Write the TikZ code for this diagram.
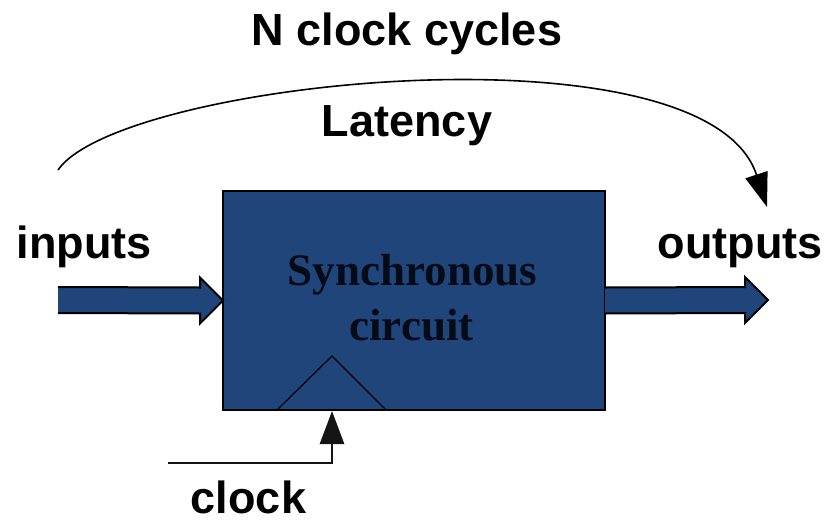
\documentclass[tikz,border=0pt]{standalone}
\usepackage{fontspec}
\setmainfont{Liberation Serif}
\newfontfamily\labelfont{Liberation Sans}
\usetikzlibrary{arrows.meta,calc}
\definecolor{navy}{RGB}{32,69,122}
\definecolor{ink}{RGB}{4,10,22}
\definecolor{wire}{RGB}{20,20,20}
\begin{document}
\begin{tikzpicture}[x=0.5pt,y=-0.5pt,
  lbl/.style={font=\labelfont\bfseries\fontsize{22.5}{27}\selectfont, anchor=base, inner sep=0pt},
  boxtxt/.style={font=\bfseries\fontsize{22.5}{27}\selectfont, text=ink, anchor=base, inner sep=0pt},
  circbox/.style={draw=black, fill=navy, line width=1.4pt, minimum width=191pt, minimum height=109.5pt, inner sep=0pt, outer sep=0pt},
  arrowfill/.style={fill=navy},
  arrowedge/.style={draw=black, line width=1pt, line join=miter},
  clockline/.style={draw=wire, line width=1.3pt, -{Triangle[length=16.5pt,width=12pt]}},
  arcline/.style={draw=black, line width=0.8pt, -{Triangle[length=17pt,width=11.5pt]}},
  edgetri/.style={draw=black, line width=0.6pt}
]
\useasboundingbox (0,0) rectangle (825,520);

% main block
\node[circbox] (box) at (414,300.5) {};
\node[boxtxt] (t1) at (412.5,285) {Synchronous};
\node[boxtxt] (t2) at (411.5,340) {circuit};

% clock edge triangle
\coordinate (triL) at (278,409);
\coordinate (triA) at (332,356);
\coordinate (triR) at (385,409);
\draw[edgetri] (triL) -- (triA) -- (triR);

% input block arrow
\coordinate (inS) at (58,300);
\coordinate (inT) at (box.west);
\fill[arrowfill] ($(inS)+(0,-13)$) -- ($(inT)+(-23,-13)$) -- ($(inT)+(-23,-23)$) -- (inT)
  -- ($(inT)+(-23,23)$) -- ($(inT)+(-23,13)$) -- ($(inS)+(0,13)$) -- cycle;
\draw[arrowedge] ($(inS)+(0,-13)$) -- ($(inT)+(-23,-13)$) -- ($(inT)+(-23,-23)$) -- (inT)
  -- ($(inT)+(-23,23)$) -- ($(inT)+(-23,13)$) -- ($(inS)+(0,13)$);

% output block arrow
\coordinate (outS) at (box.east);
\coordinate (outT) at (768,300);
\fill[arrowfill] ($(outS)+(0,-13)$) -- ($(outT)+(-23,-13)$) -- ($(outT)+(-23,-23)$) -- (outT)
  -- ($(outT)+(-23,23)$) -- ($(outT)+(-23,13)$) -- ($(outS)+(0,13)$) -- cycle;
\draw[arrowedge] ($(outS)+(0,-13)$) -- ($(outT)+(-23,-13)$) -- ($(outT)+(-23,-23)$) -- (outT)
  -- ($(outT)+(-23,23)$) -- ($(outT)+(-23,13)$) -- ($(outS)+(0,13)$);

% clock input
\coordinate (clkIn) at (168,463);
\coordinate (clkTip) at (332,411);
\draw[clockline] (clkIn) -| (clkTip);

% latency arc
\coordinate (arcS) at (58,170);
\coordinate (arcE) at (767,207);
\draw[arcline] (arcS) .. controls (120,80) and (706,20) .. (arcE);

% labels
\node[lbl] (ncc) at (407,45) {N clock cycles};
\node[lbl] (lat) at (407,136) {Latency};
\node[lbl] (inp) at (84,258) {inputs};
\node[lbl] (outp) at (740,258) {outputs};
\node[lbl] (clkl) at (248.5,513) {clock};
\end{tikzpicture}
\end{document}
